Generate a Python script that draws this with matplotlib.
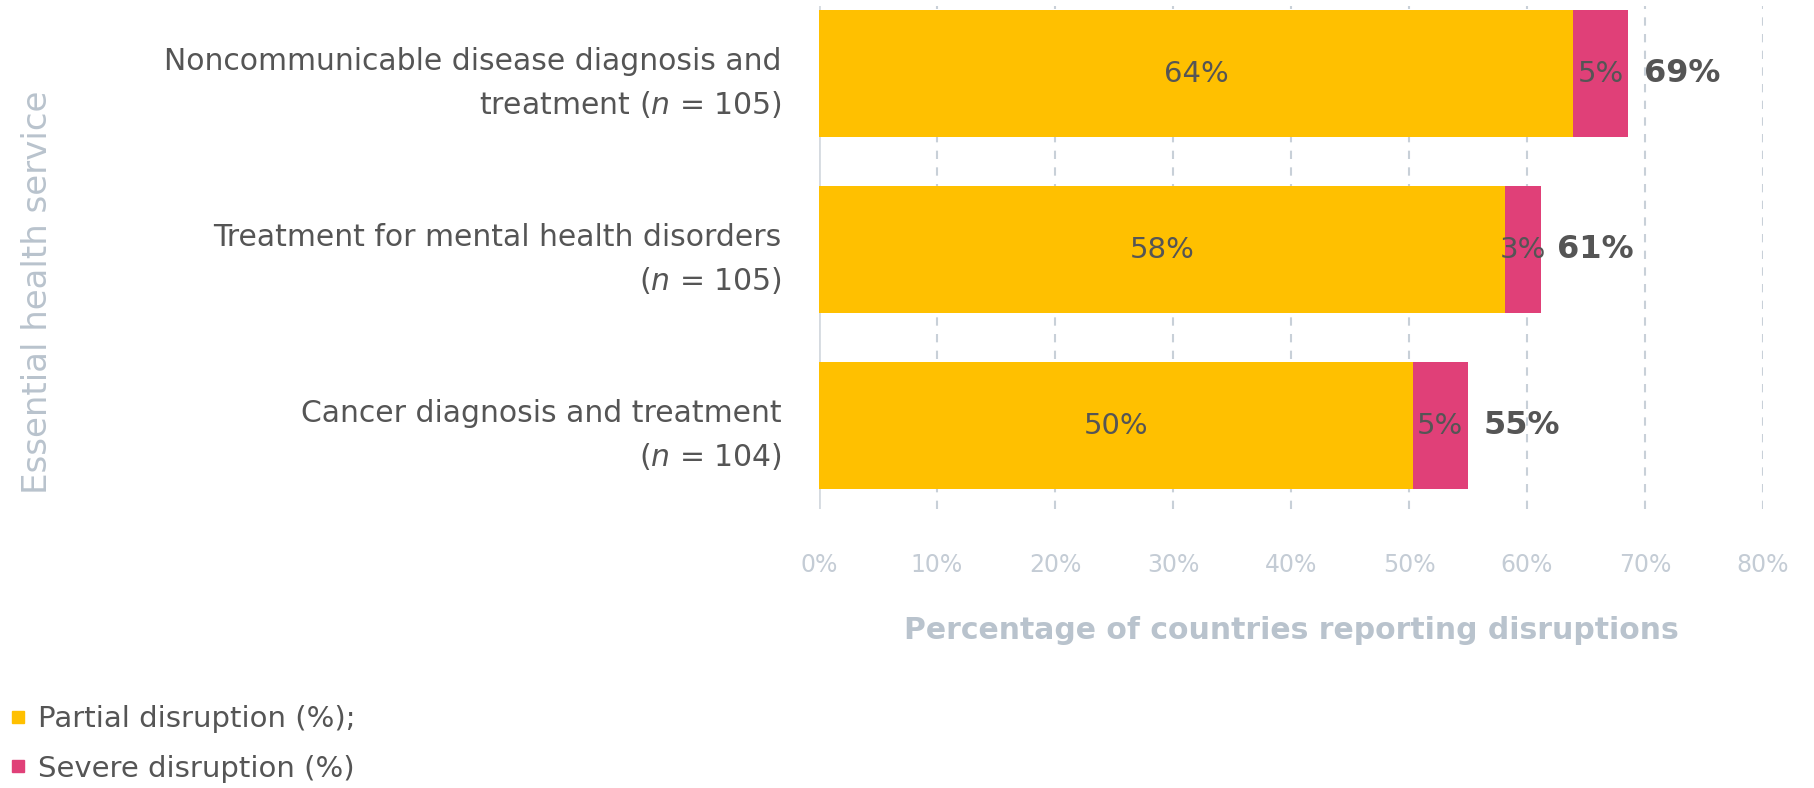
import matplotlib.pyplot as plt
from matplotlib.lines import Line2D

plt.rcParams['font.family'] = ['DejaVu Sans']
plt.rcParams['mathtext.fontset'] = 'dejavusans'

services = ["Noncommunicable disease diagnosis and\ntreatment ($\\it{n}$ = 105)",
            "Treatment for mental health disorders\n($\\it{n}$ = 105)",
            "Cancer diagnosis and treatment\n($\\it{n}$ = 104)"]
partial = [63.9, 58.1, 50.3]
severe = [4.7, 3.1, 4.7]
xticks = [0, 10, 20, 30, 40, 50, 60, 70, 80]

c_partial = "#FFC000"
c_severe = "#E04078"
c_text = "#555555"
c_axis = "#B9C3CD"

W, H = 1814, 788
fig = plt.figure(figsize=(W / 100, H / 100), dpi=100)
ax = fig.add_axes([819 / W, 1 - 509 / H, (1763 - 819) / W, (509 - 6) / H])

pos = list(range(len(services)))
ax.barh(pos, partial, height=0.72, color=c_partial, zorder=3)
ax.barh(pos, severe, left=partial, height=0.72, color=c_severe, zorder=3)

for i in pos:
    tot = partial[i] + severe[i]
    ax.text(partial[i] / 2, i, f"{round(partial[i])}%", ha="center", va="center",
            fontsize=21, color=c_text, zorder=4)
    ax.text(partial[i] + severe[i] / 2, i, f"{round(severe[i])}%", ha="center", va="center",
            fontsize=21, color=c_text, zorder=4)
    ax.text(tot + 1.3, i, f"{round(tot)}%", ha="left", va="center",
            fontsize=23, fontweight="bold", color=c_text, zorder=4)

ax.set_xlim(0, 80)
ax.set_ylim(2.474, -0.384)
ax.set_xticks(xticks)
ax.set_xticklabels([f"{t}%" for t in xticks])
ax.set_yticks(pos)
ax.set_yticklabels(services, fontsize=21.5, color=c_text, linespacing=1.55, ha="right",
                   multialignment="right")
ax.tick_params(axis="x", length=0, pad=32, labelsize=17, labelcolor="#C4CCD5")
ax.tick_params(axis="y", length=0, pad=27)

for t in xticks[1:]:
    ax.axvline(t, color="#C8D0D8", lw=1.5, ls=(0, (4, 4)), zorder=1)
ax.axvline(0, color="#D5DAE0", lw=2, zorder=1)
for s in ax.spines.values():
    s.set_visible(False)

ax.set_xlabel("Percentage of countries reporting disruptions", fontsize=21.5,
              fontweight="semibold", color=c_axis, labelpad=28)
ax.set_ylabel("Essential health service", fontsize=24.5, color=c_axis)
ax.yaxis.set_label_coords(-0.81, 0.43)

handles = [Line2D([], [], marker="s", ls="", color=c_partial, markersize=9),
           Line2D([], [], marker="s", ls="", color=c_severe, markersize=9)]
fig.legend(handles, ["Partial disruption (%);", "Severe disruption (%)"],
           loc="upper left", bbox_to_anchor=(0.0, 1 - 696 / H), frameon=False,
           fontsize=21, labelcolor=c_text, handlelength=0.6, handletextpad=0.4,
           labelspacing=0.75, borderpad=0, borderaxespad=0.3)

fig.savefig("out.png", dpi=100)
